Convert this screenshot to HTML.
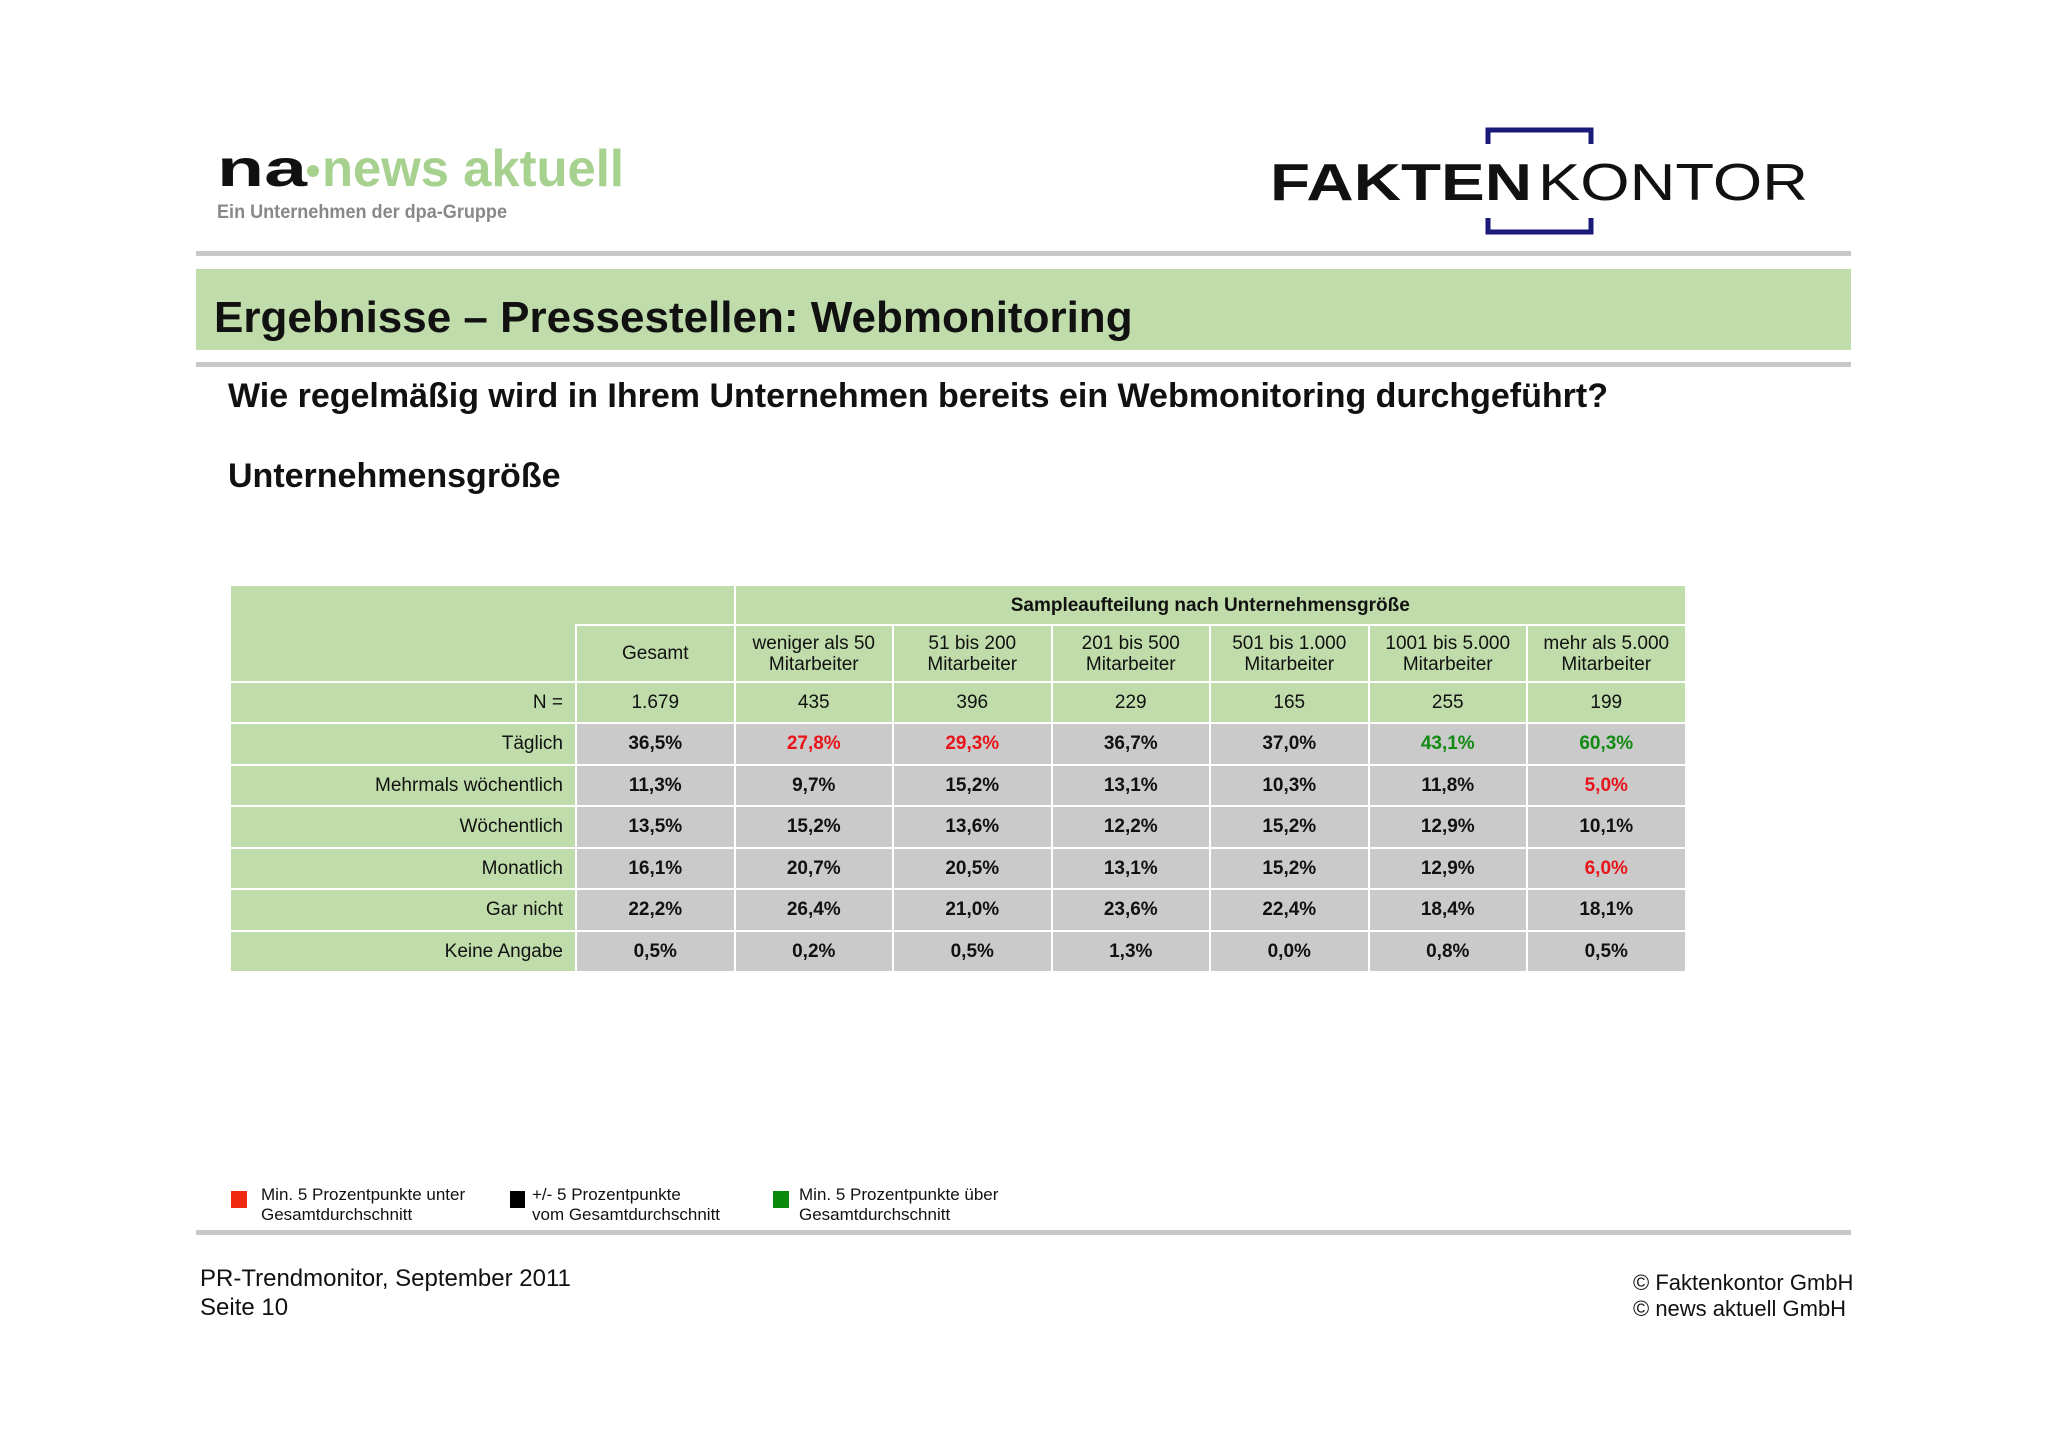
<!DOCTYPE html>
<html><head><meta charset="utf-8">
<style>
body{margin:0;width:2048px;height:1447px;background:#fff;position:relative;overflow:hidden;font-family:"Liberation Sans",sans-serif;color:#111}
.a{position:absolute}
.c{position:absolute;display:flex;align-items:center;justify-content:center;text-align:center;font-size:19px;line-height:21px;box-sizing:border-box}
.g{background:#bfdcaa}.gr{background:#cacaca;font-weight:bold}
.lbl{justify-content:flex-end;padding-right:12px}
.rule{position:absolute;left:196px;width:1655px;height:5px;background:#c8c8c8}
</style></head><body>
<svg class="a" style="left:210px;top:130px" width="430" height="100">
<text x="7" y="56" font-family="Liberation Sans" font-weight="bold" font-size="52" fill="#111" textLength="90" lengthAdjust="spacingAndGlyphs">na</text>
<circle cx="103" cy="41" r="6" fill="#a6d18e"/>
<text x="112" y="56" font-family="Liberation Sans" font-weight="bold" font-size="52" fill="#a6d18e" textLength="302" lengthAdjust="spacingAndGlyphs">news aktuell</text>
<text x="7" y="88" font-family="Liberation Sans" font-weight="bold" font-size="19" fill="#888" textLength="290" lengthAdjust="spacingAndGlyphs">Ein Unternehmen der dpa-Gruppe</text>
</svg>
<svg class="a" style="left:1260px;top:120px" width="560" height="122">
<path d="M228 24 V10 H331 V24 M228 98 V112 H331 V98" fill="none" stroke="#1a1a78" stroke-width="5"/>
<text x="10" y="80" font-family="Liberation Sans" font-weight="bold" font-size="52" fill="#111" textLength="262" lengthAdjust="spacingAndGlyphs">FAKTEN</text>
<text x="278" y="80" font-family="Liberation Sans" font-size="52" fill="#111" textLength="270" lengthAdjust="spacingAndGlyphs">KONTOR</text>
</svg>
<div class="rule" style="top:251px"></div>
<div class="a" style="left:196px;top:269px;width:1655px;height:81px;background:#bfdcaa">
<div class="a" style="left:18px;top:24px;font-size:44px;font-weight:bold">Ergebnisse – Pressestellen: Webmonitoring</div></div>
<div class="rule" style="top:362px"></div>
<div class="a" style="left:228px;top:377px;font-size:34px;font-weight:bold">Wie regelmäßig wird in Ihrem Unternehmen bereits ein Webmonitoring durchgeführt?</div>
<div class="a" style="left:228px;top:457px;font-size:34px;font-weight:bold">Unternehmensgröße</div>
<div id="tbl"></div>
<div class="a" style="left:231px;top:1191px;width:16px;height:17px;background:#f02a10"></div>
<div class="a" style="left:261px;top:1185px;font-size:17px;line-height:20px">Min. 5 Prozentpunkte unter<br>Gesamtdurchschnitt</div>
<div class="a" style="left:510px;top:1191px;width:15px;height:17px;background:#000"></div>
<div class="a" style="left:532px;top:1185px;font-size:17px;line-height:20px">+/- 5 Prozentpunkte<br>vom Gesamtdurchschnitt</div>
<div class="a" style="left:773px;top:1191px;width:16px;height:17px;background:#0a8a0a"></div>
<div class="a" style="left:799px;top:1185px;font-size:17px;line-height:20px">Min. 5 Prozentpunkte über<br>Gesamtdurchschnitt</div>
<div class="rule" style="top:1230px"></div>
<div class="a" style="left:200px;top:1264px;font-size:24px;line-height:29px">PR-Trendmonitor, September 2011<br>Seite 10</div>
<div class="a" style="left:1633px;top:1270px;font-size:22px;line-height:26px">© Faktenkontor GmbH<br>© news aktuell GmbH</div>
<script>
const columns=["Gesamt","weniger als 50<br>Mitarbeiter","51 bis 200<br>Mitarbeiter","201 bis 500<br>Mitarbeiter","501 bis 1.000<br>Mitarbeiter","1001 bis 5.000<br>Mitarbeiter","mehr als 5.000<br>Mitarbeiter"];
const nValues=["1.679","435","396","229","165","255","199"];
const rowLabels=["Täglich","Mehrmals wöchentlich","Wöchentlich","Monatlich","Gar nicht","Keine Angabe"];
const values=[
["36,5%","27,8%","29,3%","36,7%","37,0%","43,1%","60,3%"],
["11,3%","9,7%","15,2%","13,1%","10,3%","11,8%","5,0%"],
["13,5%","15,2%","13,6%","12,2%","15,2%","12,9%","10,1%"],
["16,1%","20,7%","20,5%","13,1%","15,2%","12,9%","6,0%"],
["22,2%","26,4%","21,0%","23,6%","22,4%","18,4%","18,1%"],
["0,5%","0,2%","0,5%","1,3%","0,0%","0,8%","0,5%"]];
const T=document.getElementById('tbl');
const X0=231,LW=344,CW=158.5,G=2;
function cell(x,y,w,h,cls,html,name){
 const d=document.createElement('div');
 d.className='c '+cls;
 d.style.left=x+'px';d.style.top=y+'px';d.style.width=w+'px';d.style.height=h+'px';
 d.innerHTML=html;
 
 
 T.appendChild(d);return d;}
const cx=i=>X0+LW+G+i*CW;
cell(X0,586,LW+G+CW-G,38,'g','','header-corner');
cell(X0,586,LW,95,'g','','header-label-col');
cell(cx(1),586,X0+1454-cx(1),38,'g','<b>Sampleaufteilung nach Unternehmensgröße</b>','header-group');
columns.forEach((c,i)=>cell(cx(i),626,CW-G,55,'g',c,'column-header'));
cell(X0,683,LW,39,'g lbl','N =','n-label');
nValues.forEach((v,i)=>cell(cx(i),683,CW-G,39,'g',v,'n-value'));
const RH=41.5;
rowLabels.forEach((r,j)=>{
 const y=724+j*RH;
 cell(X0,y,LW,RH-G,'g lbl',r,'row-label');
 values[j].forEach((v,i)=>{
  const d=cell(cx(i),y,CW-G,RH-G,'gr',v,'value-cell');
  if(i>0){const a=parseFloat(v.replace(',','.')),b=parseFloat(values[j][0].replace(',','.'));
   if(a<=b-5)d.style.color='#e8141a';else if(a>=b+5)d.style.color='#118a11';}
 });
});
</script>
</body></html>
